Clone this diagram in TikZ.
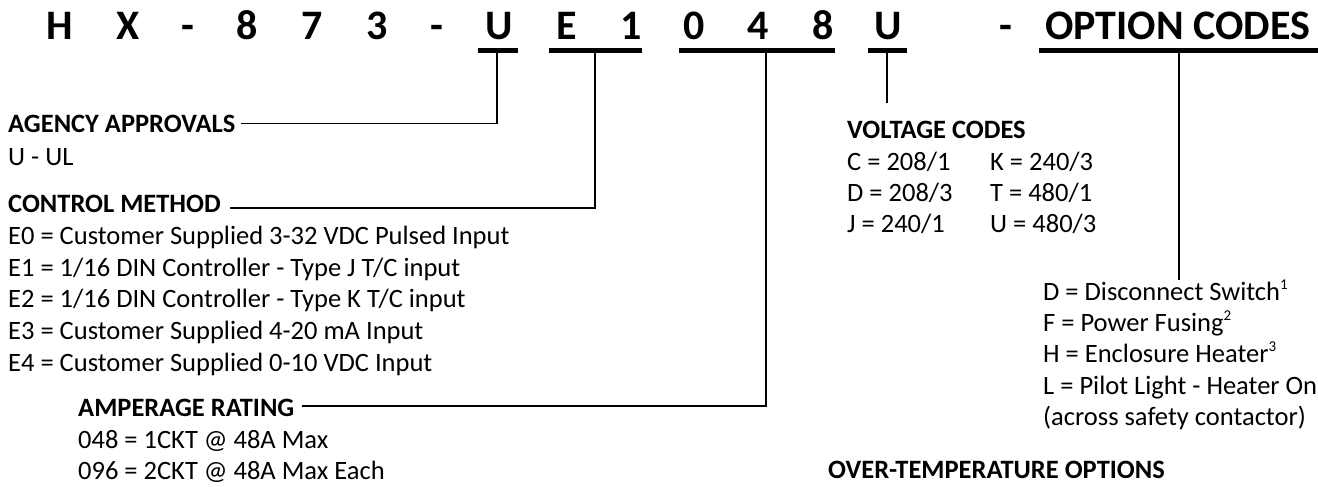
\documentclass[tikz,border=0pt]{standalone}
\usepackage{fontspec}
\setmainfont{Carlito}
\usetikzlibrary{calc}

\newcommand{\noteref}[1]{\raisebox{0.42em}{\fontsize{15}{15}\selectfont #1}}

\tikzset{
  code/.style={font=\fontsize{42}{42}\selectfont\bfseries, anchor=base, inner sep=0pt},
  head/.style={font=\fontsize{26.5}{26.5}\selectfont\bfseries, anchor=base west, inner sep=0pt},
  item/.style={font=\fontsize{26.5}{26.5}\selectfont, anchor=base west, inner sep=0pt},
  bar/.style={line width=5pt},
  lead/.style={line width=1.8pt},
}

\begin{document}
\begin{tikzpicture}[x=1pt, y=-1pt]
	\useasboundingbox (0,0) rectangle (1318,487);
	% top: model number, one glyph per slot
	\foreach \x/\c/\n in {60/H/ch, 128/X/cx, 188/-/da, 247/8/ca, 312/7/cb, 377/3/cc, 437/-/db,
		499/U/cu, 567/E/ce, 631/1/cn, 694/0/cz, 758/4/cf, 823/8/cg, 888/U/cv, 1006/-/dc} {
		\node[code] (\n) at (\x,40) {\c};
	}
	\node[code, anchor=base west] (opt) at (1045,40) {OPTION CODES};
	% underline bars and their taps
	\foreach \a/\b in {478/518, 549/642, 679/835, 868/907, 1039/1318} {
		\draw[bar] (\a,50.5) -- (\b,50.5);
	}
	\coordinate (tapU) at (497,50.5);
	\coordinate (tapE) at (595,50.5);
	\coordinate (tapA) at (766,50.5);
	\coordinate (tapV) at (887,50.5);
	\coordinate (tapO) at (1179,50.5);
	% left: agency and control
	\node[head] (agency) at (8,132) {AGENCY APPROVALS};
	\node[item] (ul) at (8,165.5) {U - UL};
	\node[head] (control) at (8,212.5) {CONTROL METHOD};
	\foreach \t [count=\i] in {E0 = Customer Supplied 3-32 VDC Pulsed Input,
		E1 = 1/16 DIN Controller - Type J T/C input,
		E2 = 1/16 DIN Controller - Type K T/C input,
		E3 = Customer Supplied 4-20 mA Input,
		E4 = Customer Supplied 0-10 VDC Input} {
		\node[item] (e\i) at (8,{244.5+31.7*(\i-1)}) {\t};
	}
	\draw[lead] ([xshift=5pt]agency.east) -| (tapU);
	\draw[lead] ([xshift=9pt,yshift=-4pt]control.east) -| (tapE);
	% amperage
	\node[head] (amp) at (78,416.5) {AMPERAGE RATING};
	\node[item] (a48) at (78,448.5) {048 = 1CKT @ 48A Max};
	\node[item] (a96) at (78,479.5) {096 = 2CKT @ 48A Max Each};
	\draw[lead] ([xshift=7pt,yshift=2pt]amp.east) -| (tapA);
	% middle: voltage
	\node[head] (volt) at (847,138.5) {VOLTAGE CODES};
	\foreach \l/\r [count=\i] in {{C = 208/1}/{K = 240/3}, {D = 208/3}/{T = 480/1}, {J = 240/1}/{U = 480/3}} {
		\node[item] (vl\i) at (847,{170.5+31.2*(\i-1)}) {\l};
		\node[item] (vr\i) at (990,{170.5+31.2*(\i-1)}) {\r};
	}
	\coordinate (voltTop) at (887,103);
	\draw[lead] (tapV) -- (voltTop);
	% right: option codes
	\foreach \t [count=\i] in {D = Disconnect Switch\noteref{1},
		F = Power Fusing\noteref{2},
		H = Enclosure Heater\noteref{3},
		L = Pilot Light - Heater On,
		(across safety contactor)} {
		\node[item] (o\i) at (1043,{300.5+31.2*(\i-1)}) {\t};
	}
	\coordinate (optEnd) at (1179,280);
	\draw[lead] (tapO) -- (optEnd);
	\node[head] (temp) at (828,478.5) {OVER-TEMPERATURE OPTIONS};
\end{tikzpicture}
\end{document}
